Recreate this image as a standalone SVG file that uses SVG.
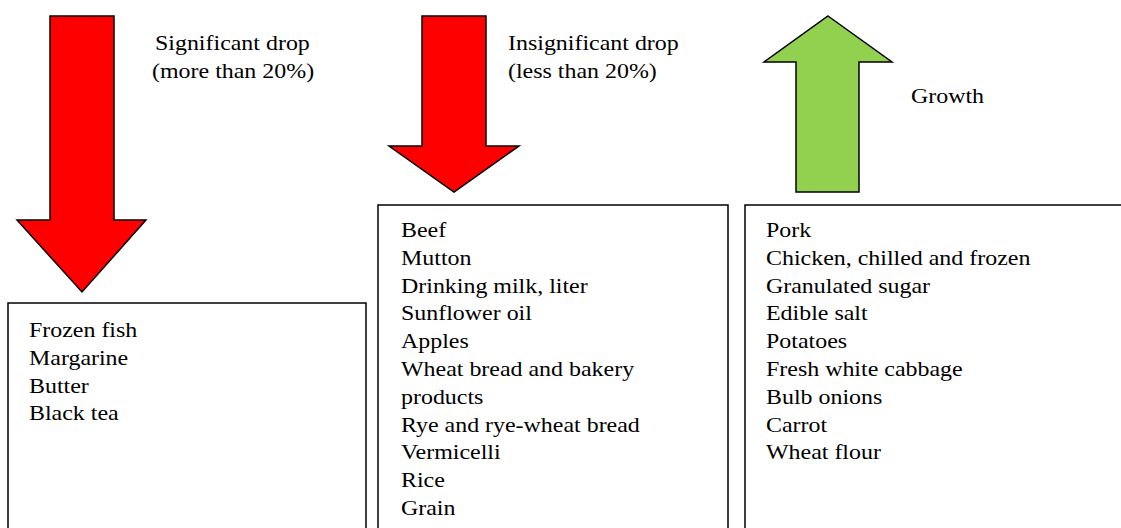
<svg xmlns="http://www.w3.org/2000/svg" width="1121" height="528" viewBox="0 0 1121 528">
<style>
  .bg { fill: #ffffff; }
  .box { fill: none; stroke: #000000; stroke-width: 1.5; }
  .down { fill: #ff0000; stroke: #000000; stroke-width: 1.5; stroke-linejoin: miter; }
  .up { fill: #92d050; stroke: #000000; stroke-width: 1.5; stroke-linejoin: miter; }
  .t { font-family: "Liberation Serif", "Times New Roman", serif; font-size: 21px; fill: #000000; }
</style>
<rect class="bg" x="0" y="0" width="1121" height="528"/>

<g id="arrows">
  <polygon id="arrow-significant" class="down" points="50,16 114,16 114,220 146,220 82,292 17,220 50,220"/>
  <polygon id="arrow-insignificant" class="down" points="422,16 486,16 486,146 519,146 454,192 389,146 422,146"/>
  <polygon id="arrow-growth" class="up" points="828,16 892,62 859,62 859,192 796,192 796,62 764,62"/>
</g>

<g id="label-significant" transform="translate(155,50) scale(1.14,1)">
  <text class="t" x="0" y="0">Significant drop</text>
  <text class="t" x="-2.6" y="27.8">(more than 20%)</text>
</g>
<g id="label-insignificant" transform="translate(508,50) scale(1.14,1)">
  <text class="t" x="0" y="0">Insignificant drop</text>
  <text class="t" x="0" y="27.8">(less than 20%)</text>
</g>
<g id="label-growth" transform="translate(911,103) scale(1.14,1)">
  <text class="t" x="0" y="0">Growth</text>
</g>

<g id="box-significant">
  <path class="box" d="M8,530 V303 H366 V530"/>
  <g transform="translate(29,337) scale(1.14,1)">
    <text class="t" x="0" y="0">Frozen fish</text>
    <text class="t" x="0" y="27.8">Margarine</text>
    <text class="t" x="0" y="55.6">Butter</text>
    <text class="t" x="0" y="83.4">Black tea</text>
  </g>
</g>

<g id="box-insignificant">
  <path class="box" d="M378,530 V205 H728 V530"/>
  <g transform="translate(401,237) scale(1.14,1)">
    <text class="t" x="0" y="0">Beef</text>
    <text class="t" x="0" y="27.8">Mutton</text>
    <text class="t" x="0" y="55.6">Drinking milk, liter</text>
    <text class="t" x="0" y="83.4">Sunflower oil</text>
    <text class="t" x="0" y="111.2">Apples</text>
    <text class="t" x="0" y="139">Wheat bread and bakery</text>
    <text class="t" x="0" y="166.8">products</text>
    <text class="t" x="0" y="194.6">Rye and rye-wheat bread</text>
    <text class="t" x="0" y="222.4">Vermicelli</text>
    <text class="t" x="0" y="250.2">Rice</text>
    <text class="t" x="0" y="278">Grain</text>
  </g>
</g>

<g id="box-growth">
  <path class="box" d="M745,530 V205 H1125"/>
  <g transform="translate(766,237) scale(1.14,1)">
    <text class="t" x="0" y="0">Pork</text>
    <text class="t" x="0" y="27.8">Chicken, chilled and frozen</text>
    <text class="t" x="0" y="55.6">Granulated sugar</text>
    <text class="t" x="0" y="83.4">Edible salt</text>
    <text class="t" x="0" y="111.2">Potatoes</text>
    <text class="t" x="0" y="139">Fresh white cabbage</text>
    <text class="t" x="0" y="166.8">Bulb onions</text>
    <text class="t" x="0" y="194.6">Carrot</text>
    <text class="t" x="0" y="222.4">Wheat flour</text>
  </g>
</g>
</svg>
